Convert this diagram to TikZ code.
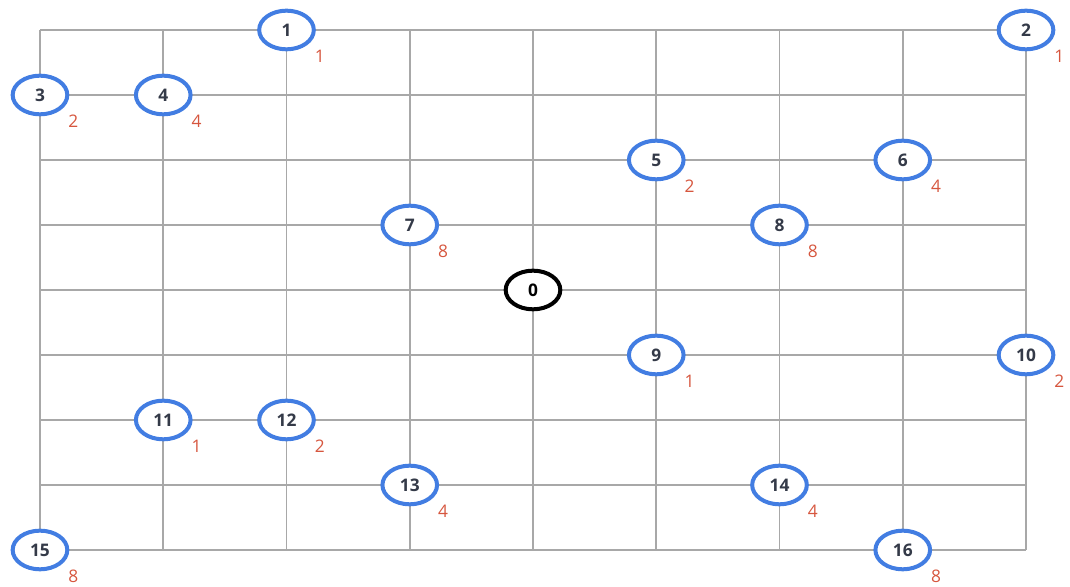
\documentclass[tikz,border=0pt]{standalone}
\usepackage{fontspec}
\setmainfont{Open Sans}
\usetikzlibrary{shapes.geometric}
\definecolor{nodeblue}{RGB}{66,125,226}
\definecolor{demred}{RGB}{214,86,62}
\definecolor{gridgray}{RGB}{168,168,168}
\definecolor{numgray}{RGB}{52,58,72}
\begin{document}
\begin{tikzpicture}[
  x=92.44pt, y=-48.75pt,
  gridline/.style={draw=gridgray, line width=1.3pt},
  cust/.style={ellipse, draw=nodeblue, line width=3pt, fill=white,
    minimum width=41pt, minimum height=29pt, inner sep=0pt,
    font=\fontsize{13}{13}\selectfont\bfseries, text=numgray},
  depot/.style={cust, draw=black, text=black},
  dem/.style={font=\fontsize{13}{13}\selectfont, text=demred, inner sep=0pt}
]
  \useasboundingbox (-0.3245,-0.4615) rectangle (8.357,8.569);

  % --- grille ---
  \foreach \k in {0,...,8} {
    \draw[gridline] (\k,0) -- (\k,8);
    \draw[gridline] (0,\k) -- (8,\k);
  }

  % --- depot ---
  \node[depot] (n0) at (4,4) {0};

  % --- clients : numero/colonne/ligne/demande ---
  \foreach \i/\c/\r/\d in {1/2/0/1, 2/8/0/1, 3/0/1/2, 4/1/1/4, 5/5/2/2,
      6/7/2/4, 7/3/3/8, 8/6/3/8, 9/5/5/1, 10/8/5/2, 11/1/6/1, 12/2/6/2,
      13/3/7/4, 14/6/7/4, 15/0/8/8, 16/7/8/8} {
    \node[cust] (n\i) at (\c,\r) {\i};
    \node[dem] (d\i) at ([xshift=25pt,yshift=-19.5pt]n\i.center) {\d};
  }
\end{tikzpicture}
\end{document}
